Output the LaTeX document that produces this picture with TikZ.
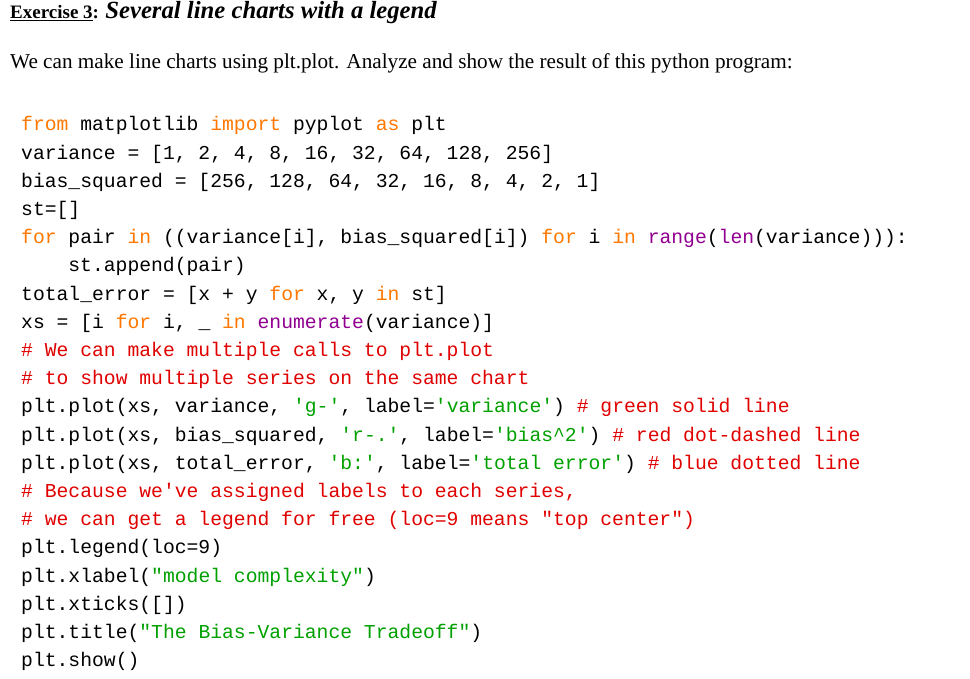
\documentclass[tikz,border=0pt]{standalone}
\usepackage{fontspec}
\setmainfont{Liberation Serif}
\setmonofont{Liberation Mono}
\usetikzlibrary{positioning}
\definecolor{kwcol}{HTML}{FF7700}
\definecolor{strcol}{HTML}{00A000}
\definecolor{cmtcol}{HTML}{E00000}
\definecolor{bicol}{HTML}{900090}
\newcommand{\kw}[1]{\textcolor{kwcol}{#1}}
\newcommand{\str}[1]{\textcolor{strcol}{#1}}
\newcommand{\cmt}[1]{\textcolor{cmtcol}{#1}}
\newcommand{\bi}[1]{\textcolor{bicol}{#1}}
\tikzset{code/.style={anchor=base west, inner sep=0pt, font=\fontsize{19.7}{22}\selectfont\ttfamily}}
\begin{document}
\begin{tikzpicture}[x=1pt, y=1pt]
\useasboundingbox (0,0) rectangle (970,678);
\node[anchor=base west, inner sep=0pt] (title) at (10,659) {\fontsize{19}{22}\selectfont\bfseries\underline{Exercise 3}: \fontsize{24.7}{28}\selectfont\itshape Several line charts with a legend};
\node[anchor=base west, inner sep=0pt] (intro) at (10,609) {\fontsize{21.2}{24}\selectfont We can make line charts using plt.plot. Analyze and show the result of this python program:};
% code listing
\node[code] (l1) at (21,547) {\kw{from} matplotlib \kw{import} pyplot \kw{as} plt};
\node[code] (l2) at (21,518.8) {variance = [1, 2, 4, 8, 16, 32, 64, 128, 256]};
\node[code] (l3) at (21,490.6) {bias\_squared = [256, 128, 64, 32, 16, 8, 4, 2, 1]};
\node[code] (l4) at (21,462.4) {st=[]};
\node[code] (l5) at (21,434.2) {\kw{for} pair \kw{in} ((variance[i], bias\_squared[i]) \kw{for} i \kw{in} \bi{range}(\bi{len}(variance))):};
\node[code] (l6) at (68.2,406) {st.append(pair)};
\node[code] (l7) at (21,377.8) {total\_error = [x + y \kw{for} x, y \kw{in} st]};
\node[code] (l8) at (21,349.6) {xs = [i \kw{for} i, \_ \kw{in} \bi{enumerate}(variance)]};
\node[code] (l9) at (21,321.4) {\cmt{\# We can make multiple calls to plt.plot}};
\node[code] (l10) at (21,293.2) {\cmt{\# to show multiple series on the same chart}};
\node[code] (l11) at (21,265) {plt.plot(xs, variance, \str{'g-'}, label=\str{'variance'}) \cmt{\# green solid line}};
\node[code] (l12) at (21,236.8) {plt.plot(xs, bias\_squared, \str{'r-.'}, label=\str{'bias\^{}2'}) \cmt{\# red dot-dashed line}};
\node[code] (l13) at (21,208.6) {plt.plot(xs, total\_error, \str{'b:'}, label=\str{'total error'}) \cmt{\# blue dotted line}};
\node[code] (l14) at (21,180.4) {\cmt{\# Because we've assigned labels to each series,}};
\node[code] (l15) at (21,152.2) {\cmt{\# we can get a legend for free (loc=9 means "top center")}};
\node[code] (l16) at (21,124) {plt.legend(loc=9)};
\node[code] (l17) at (21,95.8) {plt.xlabel(\str{"model complexity"})};
\node[code] (l18) at (21,67.6) {plt.xticks([])};
\node[code] (l19) at (21,39.4) {plt.title(\str{"The Bias-Variance Tradeoff"})};
\node[code] (l20) at (21,11.2) {plt.show()};
\end{tikzpicture}
\end{document}
